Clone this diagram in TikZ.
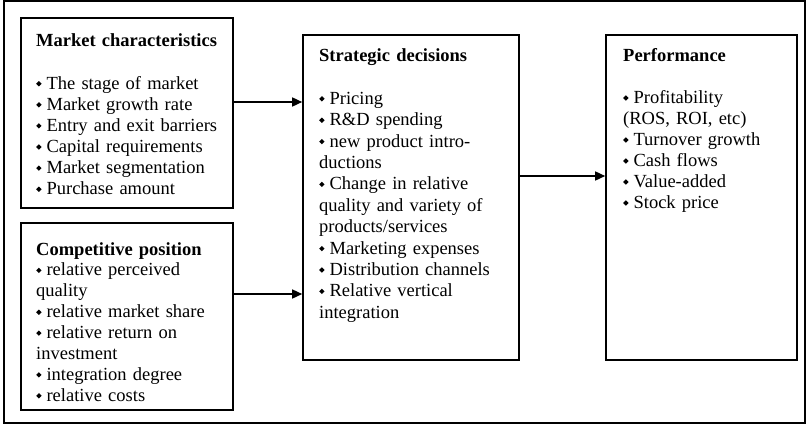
\documentclass[tikz,border=0pt]{standalone}
\usepackage{fontspec}
\setmainfont{Liberation Serif}
\usepackage{graphicx}
\usetikzlibrary{arrows.meta}
\newcommand\dmd{\raisebox{2.8pt}{\rotatebox{45}{\rule{3.8pt}{3.8pt}}}\hspace{5pt}}
\tikzset{
  boxframe/.style={draw, line width=1.6pt, inner sep=0pt},
  txt/.style={inner sep=0pt, anchor=base west, align=left, font=\fontsize{18.5}{21}\selectfont},
  conn/.style={line width=1.5pt, -{Triangle[length=10pt,width=9pt]}}
}
\begin{document}
\begin{tikzpicture}[x=1pt,y=-1pt]
\useasboundingbox (0,0) rectangle (808,428);
\node[draw, line width=1.1pt, minimum width=801pt, minimum height=422pt, inner sep=0pt] (frame) at (404.5,212) {};
\node[boxframe, minimum width=212pt, minimum height=190pt] (b1) at (127,113) {};
\node[boxframe, minimum width=212pt, minimum height=187pt] (b2) at (127,316.5) {};
\node[boxframe, minimum width=216pt, minimum height=325pt] (b3) at (411,197.5) {};
\node[boxframe, minimum width=191pt, minimum height=325pt] (b4) at (701.5,197.5) {};

\node[txt, text width=195pt, font=\fontsize{18.5}{21.1}\selectfont] (t1) at (36,47) {%
\textbf{Market characteristics}\\[21.1pt]
\dmd The stage of market\\
\dmd Market growth rate\\
\dmd Entry and exit barriers\\
\dmd Capital requirements\\
\dmd Market segmentation\\
\dmd Purchase amount};

\node[txt, text width=195pt, font=\fontsize{18.5}{20.9}\selectfont] (t2) at (36,255) {%
\textbf{Competitive position}\\
\dmd relative perceived\\
quality\\
\dmd relative market share\\
\dmd relative return on\\
investment\\
\dmd integration degree\\
\dmd relative costs};

\node[txt, text width=198pt, font=\fontsize{18.5}{21.4}\selectfont] (t3) at (319,61.5) {%
\textbf{Strategic decisions}\\[21.4pt]
\dmd Pricing\\
\dmd R\&D spending\\
\dmd new product intro-\\
ductions\\
\dmd Change in relative\\
quality and variety of\\
products/services\\
\dmd Marketing expenses\\
\dmd Distribution channels\\
\dmd Relative vertical\\
integration};

\node[txt, text width=175pt, font=\fontsize{18.5}{21}\selectfont] (t4) at (623,61.5) {%
\textbf{Performance}\\[21pt]
\dmd Profitability\\
(ROS, ROI, etc)\\
\dmd Turnover growth\\
\dmd Cash flows\\
\dmd Value-added\\
\dmd Stock price};

\coordinate (a1) at ([yshift=11pt]b1.east);
\coordinate (a2) at ([yshift=22.5pt]b2.east);
\coordinate (a3) at ([yshift=21.5pt]b3.east);
\draw[conn] (a1) -- (a1 -| b3.west);
\draw[conn] (a2) -- (a2 -| b3.west);
\draw[conn] (a3) -- (a3 -| b4.west);
\end{tikzpicture}
\end{document}
